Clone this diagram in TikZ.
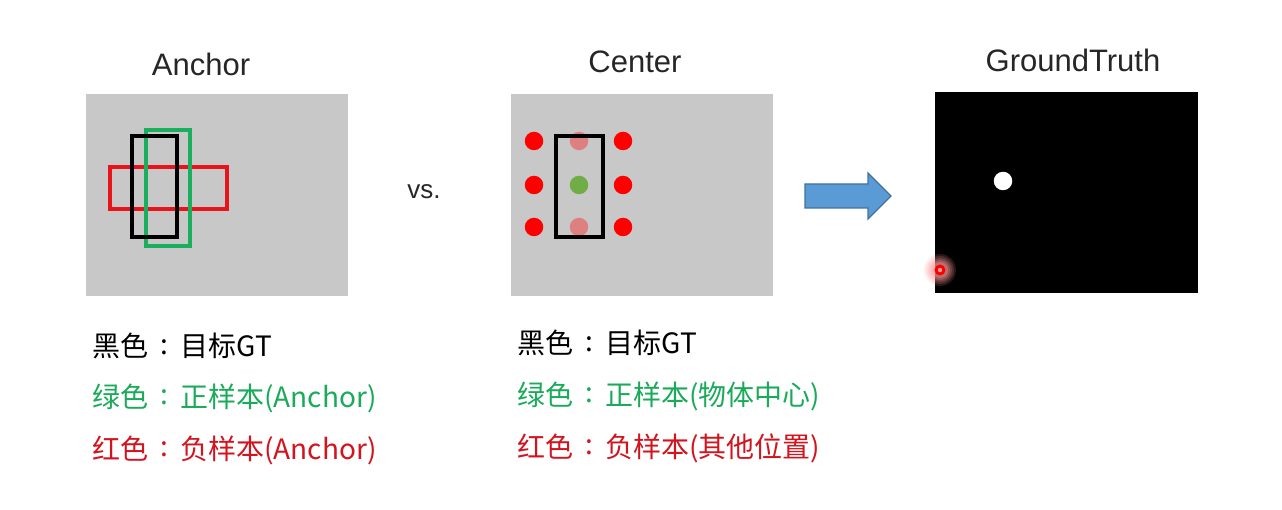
\documentclass[tikz,border=0pt]{standalone}
\usepackage{fontspec}
\setmainfont{Noto Sans CJK SC}
\newfontfamily\latinfont{Liberation Sans}
\newcommand{\fwcolon}{\makebox[1.15em][c]{\raisebox{0.08em}{:}}}
\definecolor{panelgray}{RGB}{200,200,200}
\definecolor{boxgreen}{RGB}{26,175,93}
\definecolor{boxred}{RGB}{232,20,27}
\definecolor{txtgreen}{RGB}{26,170,90}
\definecolor{txtred}{RGB}{210,20,30}
\definecolor{dotred}{RGB}{255,0,0}
\definecolor{dotpink}{RGB}{222,128,128}
\definecolor{dotgreen}{RGB}{112,173,71}
\definecolor{arrowfill}{RGB}{91,155,213}
\definecolor{arrowline}{RGB}{65,113,156}
\definecolor{glow}{RGB}{255,150,150}
\begin{document}
\begin{tikzpicture}[x=1pt,y=-1pt,
  title/.style={font=\latinfont\fontsize{31}{36}\selectfont, inner sep=0pt, text=black!85},
  legend/.style={font=\fontsize{28}{33}\selectfont, inner sep=0pt, anchor=west},
  panel/.style={fill=panelgray, draw=none},
  gtbox/.style={draw=black, line width=3.2pt},
  dot/.style={circle, minimum size=18.5pt, inner sep=0pt, draw=none}
]
\useasboundingbox (0,0) rectangle (1282,510);
\fill[white] (0,0) rectangle (1282,510);

% titles
\node[title] (tA) at (201,64) {Anchor};
\node[title] (tC) at (635,62) {Center};
\node[title] (tG) at (1073,60) {GroundTruth};

% Anchor panel
\path[panel] (86,94) rectangle (348,296);
\draw[draw=boxred, line width=3.2pt] (110,167) rectangle (227,209);
\draw[draw=boxgreen, line width=3.2pt] (146,130) rectangle (190,246);
\draw[gtbox] (132,136) rectangle (177,237);

% vs
\node[title, font=\latinfont\fontsize{26}{30}\selectfont] (vs) at (424,192) {vs.};

% Center panel
\path[panel] (511,94) rectangle (773,296);
\node[dot, fill=dotred] (d11) at (534,141) {};
\node[dot, fill=dotred] (d21) at (534,185) {};
\node[dot, fill=dotred] (d31) at (534,227) {};
\node[dot, fill=dotred] (d13) at (623,141) {};
\node[dot, fill=dotred] (d23) at (623,185) {};
\node[dot, fill=dotred] (d33) at (623,227) {};
\node[dot, fill=dotpink] (d12) at (579,141) {};
\node[dot, fill=dotgreen] (d22) at (579,185) {};
\node[dot, fill=dotpink] (d32) at (579,227) {};
\draw[gtbox] (556,136) rectangle (603,237);

% block arrow
\draw[draw=arrowline, fill=arrowfill, line width=1.2pt, line join=miter]
  (805,184) -- (868,184) -- (868,173) -- (891,196) -- (868,219) -- (868,208) -- (805,208) -- cycle;

% GroundTruth panel
\fill[black] (935,92) rectangle (1198,293);
\node[dot, fill=white] (wd) at (1003,181) {};
\foreach \r/\o in {16/0.15,14/0.18,12/0.22,10/0.28,8/0.35}{
  \fill[glow, opacity=\o] (940,270) circle (\r pt);
}
\node[circle, fill=red, minimum size=11pt, inner sep=0pt] (rd) at (940,270) {};
\fill[white, opacity=0.6] (rd.center) circle (2.2pt);

% legends
\node[legend] (l1) at (92,346) {黑色\fwcolon 目标GT};
\node[legend, text=txtgreen] (l2) at (92,398) {绿色\fwcolon 正样本(Anchor)};
\node[legend, text=txtred] (l3) at (92,450) {红色\fwcolon 负样本(Anchor)};
\node[legend] (r1) at (517,343) {黑色\fwcolon 目标GT};
\node[legend, text=txtgreen] (r2) at (517,396) {绿色\fwcolon 正样本(物体中心)};
\node[legend, text=txtred] (r3) at (517,448) {红色\fwcolon 负样本(其他位置)};
\end{tikzpicture}
\end{document}
